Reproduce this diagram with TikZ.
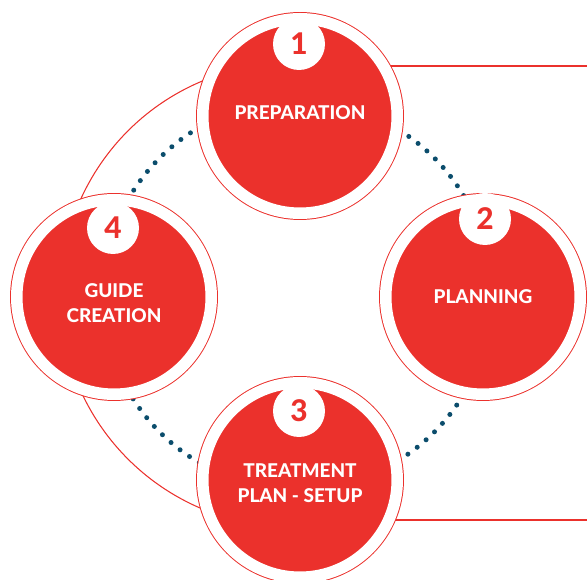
\documentclass[tikz,border=0pt]{standalone}
\usepackage{fontspec}
\setmainfont{Lato}[BoldFont={Lato Heavy}]
\usetikzlibrary{backgrounds}
\definecolor{stagered}{HTML}{EB312C}
\definecolor{dotblue}{HTML}{0B4D6C}
\newcommand{\stagefont}{\fontsize{10.8}{14.2}\selectfont\bfseries}
\newcommand{\badgefont}{\fontsize{17}{20}\selectfont\bfseries}
\tikzset{
	stage/.style={circle, minimum size=3.89cm, inner sep=0pt, fill=stagered, draw=stagered, line width=0.55pt, double=white, double distance=0.23cm},
	stagetext/.style={text=white, font=\stagefont, align=center, inner sep=0pt},
	badge/.style={circle, minimum size=1.04cm, inner sep=0pt, fill=white, text=stagered, font=\badgefont},
	thinred/.style={draw=stagered, line width=0.6pt}
}
\begin{document}
\begin{tikzpicture}
		%%%%% START %%%%%
		\useasboundingbox (0, 0) rectangle (11.74, 11.6);
		
		\coordinate (toprim) at (11.74, 10.28);
		\coordinate (botrim) at (11.74, 1.2);
		
		\node[stage, label={[stagetext, yshift=0.07cm]center:PREPARATION}] (prep) at (6, 9.28) {};
		\node[stage, label={[stagetext]center:PLANNING}] (plan) at (9.66, 5.66) {};
		\node[stage, label={[stagetext, yshift=-0.06cm]center:TREATMENT\\PLAN - SETUP}] (treat) at (6, 2) {};
		\node[stage, label={[stagetext, yshift=-0.12cm]center:GUIDE\\CREATION}] (guide) at (2.28, 5.66) {};
		
		\node[badge] (num1) at (5.98, 10.72) {1};
		\node[badge] (num2) at (9.70, 7.22) {2};
		\node[badge] (num3) at (5.98, 3.38) {3};
		\node[badge] (num4) at (2.26, 7.04) {4};
		
		\begin{scope}[on background layer]
			\draw[dotblue, line width=0.1cm, line cap=round, dash pattern=on 0pt off 0.232cm] (5.94, 5.7) circle (3.88);
			\draw[thinred] (5.84, 5.7) ++(110:4.64) arc (110:250:4.64);
			\draw[thinred] (prep.center |- toprim) -- (toprim);
			\draw[thinred] (treat.center |- botrim) -- (botrim);
		\end{scope}
		
		%%%%% END %%%%%
	\end{tikzpicture}
\end{document}
